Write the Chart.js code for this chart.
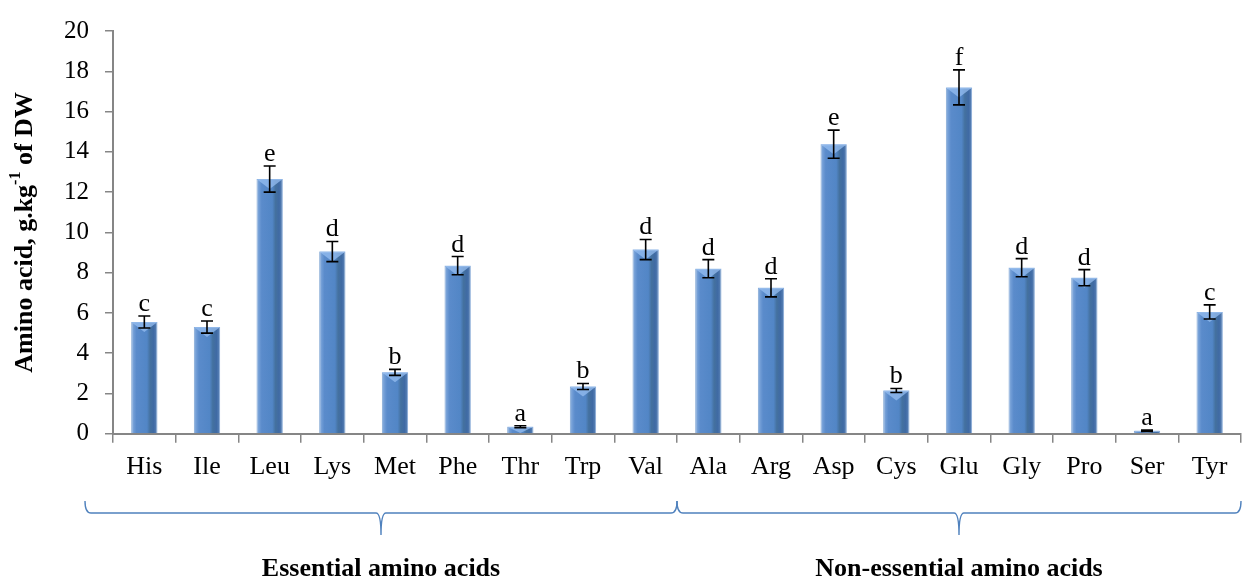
<!DOCTYPE html>
<html>
<head>
<meta charset="utf-8">
<script src="https://cdn.jsdelivr.net/npm/chart.js@4/dist/chart.umd.min.js"></script>
<style>
  html, body { margin: 0; padding: 0; background: #fff; }
  #wrap { width: 1245px; height: 583px; position: relative; }
</style>
</head>
<body>
<div id="wrap"><canvas id="c" width="1245" height="583"></canvas></div>
<script>
// ---------- 데이터 ----------
const aminoAcids = ['His', 'Ile', 'Leu', 'Lys', 'Met', 'Phe', 'Thr', 'Trp', 'Val',
                    'Ala', 'Arg', 'Asp', 'Cys', 'Glu', 'Gly', 'Pro', 'Ser', 'Tyr'];
const contents = [5.55, 5.3, 12.65, 9.05, 3.05, 8.35, 0.35, 2.35, 9.15,
                  8.2, 7.25, 14.38, 2.15, 17.2, 8.25, 7.75, 0.15, 6.05];
const errors = [0.3, 0.3, 0.65, 0.5, 0.15, 0.45, 0.05, 0.15, 0.5,
                0.45, 0.45, 0.7, 0.1, 0.87, 0.45, 0.4, 0.03, 0.35];
const letters = ['c', 'c', 'e', 'd', 'b', 'd', 'a', 'b', 'd',
                 'd', 'd', 'e', 'b', 'f', 'd', 'd', 'a', 'c'];
const groups = ['Essential amino acids', 'Non-essential amino acids'];
const groupEnds = [8, 17];   // 각 그룹의 마지막 카테고리 index

const SERIF = '"Liberation Serif", "DejaVu Serif", serif';
const AXIS_COLOR = '#868686';
const BRACE_COLOR = '#4f81bd';
const BAR_PCT = 0.42;

// ---------- 막대 그라데이션 (엑셀 베벨 느낌) ----------
function barFill(ctx) {
  const chart = ctx.chart;
  const xs = chart.scales.x;
  if (!xs || ctx.dataIndex === undefined) return '#5286c6';
  const cx = xs.getPixelForValue(ctx.dataIndex);
  const w = (xs.width / aminoAcids.length) * BAR_PCT;
  if (!Number.isFinite(cx) || !Number.isFinite(w) || w <= 0) return '#5286c6';
  const g = chart.ctx.createLinearGradient(cx - w / 2, 0, cx + w / 2, 0);
  g.addColorStop(0, '#8fb3e0');
  g.addColorStop(0.12, '#6b98d3');
  g.addColorStop(0.2, '#5a8bcb');
  g.addColorStop(0.6, '#5286c6');
  g.addColorStop(0.72, '#44719f');
  g.addColorStop(0.86, '#3f6aa4');
  g.addColorStop(1, '#5f87ba');
  return g;
}

// ---------- 플러그인: 오차막대, 유의성 문자, y축 제목, 그룹 괄호 ----------
const decorations = {
  id: 'decorations',
  afterDatasetsDraw(chart) {
    const { ctx, scales: { x, y } } = chart;
    const meta = chart.getDatasetMeta(0);
    ctx.save();
    // 막대 윗부분 밝은 삼각 베벨
    meta.data.forEach((bar) => {
      const l = bar.x - bar.width / 2, r = bar.x + bar.width / 2;
      const h = Math.min(10, bar.base - bar.y);
      ctx.fillStyle = 'rgba(150, 190, 240, 0.75)';
      ctx.beginPath();
      ctx.moveTo(l, bar.y);
      ctx.lineTo(r, bar.y);
      ctx.lineTo(bar.x, bar.y + h);
      ctx.closePath();
      ctx.fill();
    });
    // 오차막대
    ctx.strokeStyle = '#000';
    ctx.lineWidth = 1.6;
    contents.forEach((v, i) => {
      const cx = x.getPixelForValue(i);
      const top = y.getPixelForValue(v + errors[i]);
      const bot = y.getPixelForValue(v - errors[i]);
      ctx.beginPath();
      ctx.moveTo(cx, top); ctx.lineTo(cx, bot);
      ctx.moveTo(cx - 6, top); ctx.lineTo(cx + 6, top);
      ctx.moveTo(cx - 6, bot); ctx.lineTo(cx + 6, bot);
      ctx.stroke();
      // 문자
      ctx.fillStyle = '#000';
      ctx.font = '26px ' + SERIF;
      ctx.textAlign = 'center';
      ctx.textBaseline = 'alphabetic';
      ctx.fillText(letters[i], cx, top - 5);
    });
    ctx.restore();
  },
  afterDraw(chart) {
    const { ctx, scales: { x, y } } = chart;
    ctx.save();
    // y축 제목 (위첨자 포함)
    ctx.translate(25, (y.top + y.bottom) / 2);
    ctx.rotate(-Math.PI / 2);
    ctx.fillStyle = '#000';
    const big = 'bold 26px ' + SERIF, small = 'bold 16px ' + SERIF;
    const parts = [['Amino acid, g.kg', big, 0], ['-1', small, -9], [' of DW', big, 0]];
    let total = 0;
    parts.forEach(([t, f]) => { ctx.font = f; total += ctx.measureText(t).width; });
    let px = -total / 2;
    ctx.textBaseline = 'middle';
    ctx.textAlign = 'left';
    parts.forEach(([t, f, dy]) => {
      ctx.font = f;
      ctx.fillText(t, px, dy);
      px += ctx.measureText(t).width;
    });
    ctx.restore();

    // 그룹 괄호
    const step = x.width / aminoAcids.length;
    const yLine = 513, hook = 12, tip = 22;
    let start = x.getPixelForValue(0) - step / 2 - 28;
    ctx.save();
    ctx.strokeStyle = BRACE_COLOR;
    ctx.lineWidth = 1.4;
    groups.forEach((name, gi) => {
      const end = Math.min(x.getPixelForValue(groupEnds[gi]) + step / 2, chart.width - 4);
      const mid = (start + end) / 2;
      ctx.beginPath();
      ctx.moveTo(start, yLine - hook);
      ctx.quadraticCurveTo(start, yLine, start + 6, yLine);
      ctx.lineTo(mid - 5, yLine);
      ctx.quadraticCurveTo(mid, yLine, mid, yLine + tip);
      ctx.quadraticCurveTo(mid, yLine, mid + 5, yLine);
      ctx.lineTo(end - 6, yLine);
      ctx.quadraticCurveTo(end, yLine, end, yLine - hook);
      ctx.stroke();
      ctx.fillStyle = '#000';
      ctx.font = 'bold 26px ' + SERIF;
      ctx.textAlign = 'center';
      ctx.textBaseline = 'middle';
      ctx.fillText(name, mid, 569);
      start = end;
    });
    ctx.restore();
  },
};

new Chart(document.getElementById('c'), {
  type: 'bar',
  data: {
    labels: aminoAcids,
    datasets: [{
      data: contents,
      backgroundColor: barFill,
      borderColor: 'rgba(120, 160, 210, 0.9)',
      borderWidth: 1,
      barPercentage: BAR_PCT,
      categoryPercentage: 1,
    }],
  },
  options: {
    responsive: false,
    animation: false,
    devicePixelRatio: 1,
    layout: { padding: { left: 48, right: 4, top: 12, bottom: 91 } },
    plugins: { legend: { display: false }, tooltip: { enabled: false } },
    scales: {
      x: {
        grid: { drawOnChartArea: false, color: AXIS_COLOR, tickLength: 9, lineWidth: 1.5 },
        border: { color: AXIS_COLOR, width: 2 },
        ticks: { color: '#000', font: { family: SERIF, size: 26 }, padding: 9, maxRotation: 0 },
      },
      y: {
        min: 0,
        max: 20,
        grid: { drawOnChartArea: false, color: AXIS_COLOR, tickLength: 8, lineWidth: 1.5 },
        border: { color: AXIS_COLOR, width: 2 },
        ticks: { stepSize: 2, color: '#000', font: { family: SERIF, size: 25 }, padding: 16 },
      },
    },
  },
  plugins: [decorations],
});
</script>
</body>
</html>
